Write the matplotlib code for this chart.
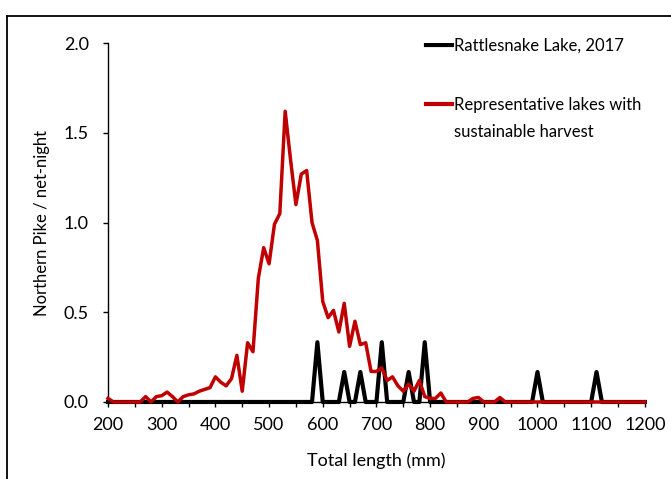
import matplotlib
matplotlib.use("Agg")
import matplotlib.pyplot as plt
from matplotlib.lines import Line2D
import numpy as np

# 10 mm length bins
lengths = np.arange(200, 1201, 10)

# Representative lakes with sustainable harvest (fish per net-night)
representative = [
    0.02, 0, 0, 0, 0, 0, 0, 0.03, 0, 0.03,            # 200-290
    0.035, 0.055, 0.03, 0, 0.03, 0.04, 0.045, 0.06, 0.07, 0.08,  # 300-390
    0.14, 0.11, 0.09, 0.13, 0.26, 0.06, 0.33, 0.28, 0.69, 0.86,  # 400-490
    0.77, 0.99, 1.05, 1.62, 1.35, 1.10, 1.27, 1.29, 1.00, 0.90,  # 500-590
    0.56, 0.47, 0.51, 0.39, 0.55, 0.31, 0.45, 0.32, 0.33, 0.17,  # 600-690
    0.17, 0.19, 0.12, 0.14, 0.09, 0.06, 0.10, 0.06, 0.12, 0.03,  # 700-790
    0.02, 0.02, 0.05, 0, 0, 0, 0, 0, 0.02, 0.025,     # 800-890
    0, 0, 0, 0.025, 0, 0, 0, 0, 0, 0,                 # 900-990
    0, 0, 0, 0, 0, 0, 0, 0, 0, 0,                     # 1000-1090
    0, 0, 0, 0, 0, 0, 0, 0, 0, 0,                     # 1100-1190
    0,                                                # 1200
]

# Rattlesnake Lake, 2017
rattlesnake = [
    0, 0, 0, 0, 0, 0, 0, 0, 0, 0,                     # 200-290
    0, 0, 0, 0, 0, 0, 0, 0, 0, 0,                     # 300-390
    0, 0, 0, 0, 0, 0, 0, 0, 0, 0,                     # 400-490
    0, 0, 0, 0, 0, 0, 0, 0, 0, 0.333,                 # 500-590
    0, 0, 0, 0, 0.167, 0, 0, 0.167, 0, 0,             # 600-690
    0, 0.333, 0, 0, 0, 0, 0.167, 0, 0, 0.333,         # 700-790
    0, 0, 0, 0, 0, 0, 0, 0, 0, 0,                     # 800-890
    0, 0, 0, 0, 0, 0, 0, 0, 0, 0,                     # 900-990
    0.167, 0, 0, 0, 0, 0, 0, 0, 0, 0,                 # 1000-1090
    0, 0.167, 0, 0, 0, 0, 0, 0, 0, 0,                 # 1100-1190
    0,                                                # 1200
]

RED = "#C00000"
plt.rcParams["font.family"] = ["Lato", "DejaVu Sans"]

fig = plt.figure(figsize=(6.71, 4.79), dpi=100)
ax = fig.add_axes([0.161, 0.1608, 0.8, 0.7492])

ax.plot(lengths, rattlesnake, color="black", linewidth=3.0, zorder=2, clip_on=False)
ax.plot(lengths, representative, color=RED, linewidth=2.5, zorder=3, clip_on=False)

ax.set_xlim(200, 1200)
ax.set_ylim(0, 2.0)
ax.set_xticks(np.arange(200, 1201, 100))
ax.set_xticks(np.arange(250, 1200, 100), minor=True)
ax.set_yticks([0, 0.5, 1.0, 1.5, 2.0])
ax.set_yticklabels(["0.0", "0.5", "1.0", "1.5", "2.0"])
ax.tick_params(axis="both", which="both", direction="out", length=3.8, width=1, labelsize=13, colors="black")
ax.tick_params(axis="x", pad=7)
ax.tick_params(axis="y", pad=10)

for s in ["top", "right"]:
    ax.spines[s].set_visible(False)
ax.spines["left"].set_linewidth(1)
ax.spines["bottom"].set_linewidth(1)

ax.set_xlabel("Total length (mm)", fontsize=13, labelpad=14)
ax.set_ylabel("Northern Pike / net-night", fontsize=12, labelpad=10)

# manual legend (handle aligned with first text line)
ax.add_line(Line2D([0.592, 0.641], [0.995, 0.995], color="black", linewidth=3, transform=ax.transAxes))
ax.text(0.645, 0.993, "Rattlesnake Lake, 2017", transform=ax.transAxes, fontsize=12, va="center", ha="left")
ax.add_line(Line2D([0.592, 0.641], [0.830, 0.830], color=RED, linewidth=3, transform=ax.transAxes))
ax.text(0.645, 0.828, "Representative lakes with", transform=ax.transAxes, fontsize=12, va="center", ha="left")
ax.text(0.645, 0.752, "sustainable harvest", transform=ax.transAxes, fontsize=12, va="center", ha="left")

# outer frame (cut off at right and bottom)
fig.add_artist(Line2D([7 / 671, 7 / 671], [-0.1, 1 - 16 / 479], color="black", linewidth=1.3, transform=fig.transFigure))
fig.add_artist(Line2D([7 / 671, 1.1], [1 - 16 / 479, 1 - 16 / 479], color="black", linewidth=1.3, transform=fig.transFigure))

fig.savefig("out.png", dpi=100)
